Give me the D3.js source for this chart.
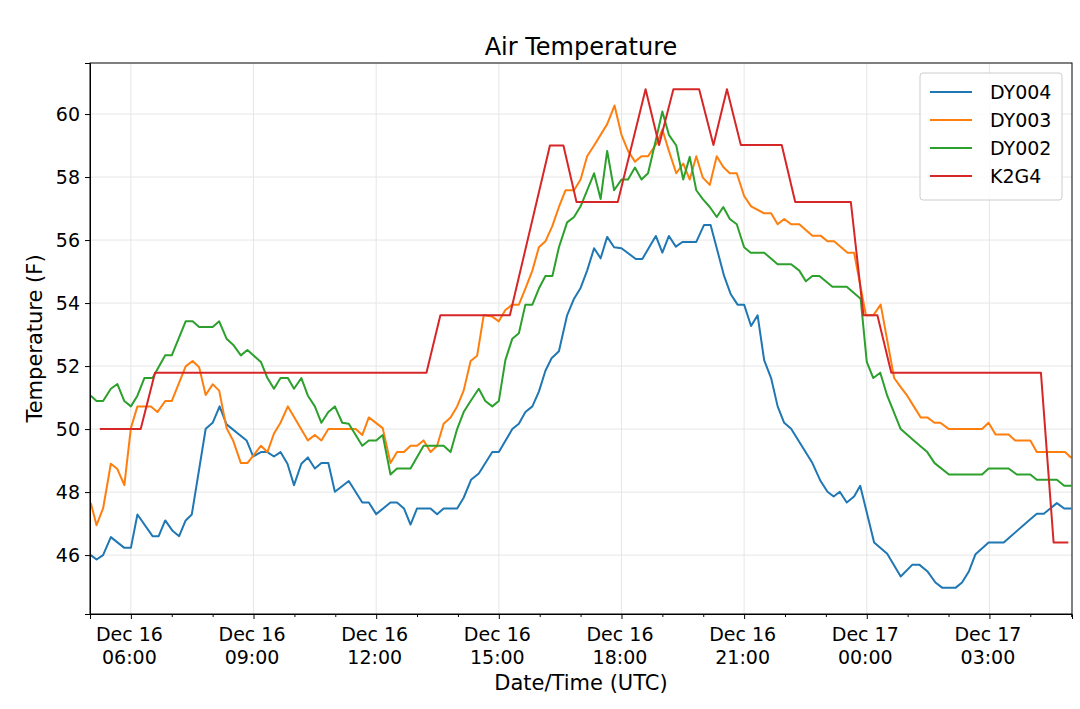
<!DOCTYPE html>
<html>
<head>
<meta charset="utf-8">
<script src="https://cdn.jsdelivr.net/npm/d3@7"></script>
<style>
  body { margin: 0; background: #fff; font-family: "DejaVu Sans", sans-serif; }
  .grid line { stroke: #e6e6e6; stroke-width: 1; }
  .axis text { font-size: 19px; fill: #000; font-family: "DejaVu Sans", sans-serif; }
  .axis path, .axis line { stroke: #000; }
</style>
</head>
<body>
<div id="chart"></div>
<script>

// hours since Dec 16 00:00 UTC, temperature (F)
var dy004 = [[5.02,46.0],[5.16,45.86],[5.32,46.0],[5.51,46.57],[5.84,46.23],[6.0,46.23],[6.16,47.29],[6.53,46.6],[6.68,46.6],[6.84,47.1],[7.02,46.77],[7.18,46.6],[7.34,47.1],[7.49,47.29],[7.83,50.01],[8.0,50.2],[8.17,50.72],[8.34,50.15],[8.83,49.64],[8.99,49.13],[9.18,49.27],[9.34,49.27],[9.5,49.13],[9.66,49.27],[9.83,48.9],[9.99,48.22],[10.17,48.9],[10.33,49.1],[10.5,48.75],[10.66,48.92],[10.83,48.92],[10.99,48.01],[11.33,48.35],[11.66,47.67],[11.82,47.67],[12.0,47.3],[12.35,47.67],[12.51,47.67],[12.68,47.48],[12.84,46.97],[13.0,47.48],[13.33,47.48],[13.49,47.3],[13.65,47.48],[13.98,47.48],[14.14,47.82],[14.32,48.39],[14.51,48.59],[14.84,49.27],[15.0,49.27],[15.33,50.0],[15.49,50.17],[15.65,50.54],[15.82,50.72],[15.98,51.19],[16.14,51.85],[16.29,52.25],[16.47,52.47],[16.67,53.61],[16.84,54.14],[17.0,54.48],[17.16,55.03],[17.33,55.74],[17.49,55.42],[17.65,56.1],[17.82,55.77],[18.0,55.74],[18.35,55.4],[18.51,55.4],[18.84,56.13],[19.0,55.6],[19.16,56.13],[19.33,55.79],[19.49,55.94],[19.83,55.94],[20.02,56.48],[20.18,56.48],[20.51,54.86],[20.67,54.29],[20.84,53.95],[21.0,53.95],[21.17,53.27],[21.33,53.61],[21.49,52.19],[21.66,51.62],[21.82,50.72],[21.98,50.2],[22.15,50.01],[22.67,48.92],[22.87,48.35],[23.04,48.01],[23.19,47.86],[23.34,48.01],[23.51,47.67],[23.69,47.86],[23.84,48.2],[24.18,46.4],[24.5,46.04],[24.83,45.32],[25.11,45.69],[25.29,45.69],[25.48,45.49],[25.68,45.13],[25.85,44.96],[26.17,44.96],[26.33,45.13],[26.5,45.49],[26.66,46.03],[26.98,46.4],[27.35,46.4],[28.0,47.14],[28.16,47.31],[28.33,47.31],[28.65,47.65],[28.83,47.48],[29.0,47.48]];

var dy003 = [[5.02,47.65],[5.16,46.95],[5.32,47.48],[5.51,48.9],[5.67,48.73],[5.84,48.22],[6.0,50.03],[6.16,50.72],[6.49,50.72],[6.65,50.54],[6.84,50.89],[7.0,50.89],[7.34,51.99],[7.51,52.16],[7.67,51.96],[7.83,51.08],[8.0,51.42],[8.16,51.22],[8.34,50.03],[8.5,49.64],[8.69,48.92],[8.85,48.92],[9.18,49.47],[9.34,49.27],[9.5,49.86],[9.66,50.2],[9.84,50.72],[10.33,49.64],[10.5,49.81],[10.66,49.64],[10.83,50.0],[11.5,50.0],[11.66,49.81],[11.82,50.37],[12.16,50.03],[12.35,48.92],[12.51,49.27],[12.68,49.27],[12.84,49.47],[13.0,49.47],[13.16,49.64],[13.33,49.27],[13.49,49.47],[13.65,50.17],[13.82,50.37],[13.98,50.72],[14.14,51.22],[14.31,52.16],[14.47,52.33],[14.63,53.61],[14.84,53.57],[15.0,53.42],[15.16,53.78],[15.33,53.95],[15.49,53.95],[15.65,54.46],[15.82,55.03],[15.98,55.77],[16.14,55.96],[16.31,56.45],[16.47,57.05],[16.63,57.58],[16.84,57.58],[17.0,57.92],[17.16,58.66],[17.33,59.0],[17.65,59.68],[17.83,60.27],[18.0,59.34],[18.16,58.83],[18.33,58.49],[18.49,58.66],[18.65,58.66],[18.88,59.11],[19.0,59.51],[19.16,58.83],[19.34,58.12],[19.51,58.43],[19.67,57.92],[19.83,58.66],[19.99,57.98],[20.16,57.75],[20.33,58.66],[20.49,58.32],[20.65,58.12],[20.82,58.12],[21.0,57.4],[21.17,57.07],[21.49,56.85],[21.66,56.85],[21.82,56.5],[21.98,56.67],[22.15,56.5],[22.35,56.5],[22.67,56.14],[22.87,56.14],[23.04,55.96],[23.2,55.96],[23.53,55.6],[23.69,55.6],[23.98,53.61],[24.16,53.61],[24.34,53.95],[24.67,51.62],[24.83,51.33],[24.99,51.06],[25.15,50.72],[25.32,50.37],[25.48,50.37],[25.66,50.2],[25.8,50.2],[26.01,50.0],[26.82,50.0],[26.98,50.2],[27.15,49.83],[27.47,49.83],[27.63,49.64],[28.0,49.64],[28.16,49.27],[28.85,49.27],[29.0,49.09]];

var dy002 = [[5.02,51.06],[5.16,50.89],[5.32,50.89],[5.51,51.28],[5.67,51.43],[5.84,50.89],[6.0,50.72],[6.16,51.06],[6.33,51.62],[6.53,51.62],[6.84,52.34],[7.0,52.34],[7.34,53.42],[7.51,53.42],[7.67,53.24],[8.0,53.24],[8.16,53.42],[8.34,52.87],[8.5,52.68],[8.69,52.34],[8.85,52.51],[9.18,52.13],[9.34,51.62],[9.5,51.28],[9.66,51.62],[9.84,51.62],[9.99,51.28],[10.17,51.62],[10.33,51.06],[10.5,50.72],[10.66,50.2],[10.83,50.54],[10.99,50.72],[11.17,50.2],[11.33,50.17],[11.66,49.47],[11.82,49.64],[12.0,49.64],[12.16,49.81],[12.35,48.56],[12.51,48.75],[12.84,48.75],[13.16,49.47],[13.65,49.47],[13.82,49.27],[13.98,50.0],[14.14,50.54],[14.31,50.89],[14.51,51.28],[14.67,50.89],[14.84,50.72],[15.0,50.89],[15.16,52.19],[15.33,52.87],[15.49,53.04],[15.65,53.95],[15.82,53.95],[15.98,54.46],[16.14,54.86],[16.31,54.86],[16.47,55.77],[16.67,56.56],[16.84,56.73],[17.0,57.07],[17.16,57.58],[17.33,58.12],[17.49,57.3],[17.65,58.83],[17.82,57.58],[18.0,57.92],[18.16,57.92],[18.33,58.3],[18.49,57.92],[18.65,58.12],[18.84,59.17],[19.0,60.08],[19.16,59.34],[19.34,59.0],[19.51,57.92],[19.67,58.64],[19.83,57.58],[19.99,57.3],[20.16,57.05],[20.33,56.73],[20.49,57.05],[20.65,56.67],[20.82,56.5],[21.0,55.77],[21.16,55.6],[21.49,55.6],[21.82,55.23],[22.15,55.23],[22.35,55.03],[22.51,54.69],[22.67,54.86],[22.84,54.86],[23.16,54.52],[23.51,54.52],[23.85,54.14],[24.0,52.13],[24.16,51.62],[24.33,51.79],[24.5,51.06],[24.83,50.0],[25.15,49.64],[25.48,49.27],[25.66,48.92],[26.01,48.56],[26.82,48.56],[26.98,48.75],[27.47,48.75],[27.67,48.56],[28.0,48.56],[28.16,48.39],[28.65,48.39],[28.83,48.2],[29.0,48.2]];

var k2g4 = [[5.24,50.0],[6.24,50.0],[6.59,51.79],[13.23,51.79],[13.57,53.61],[15.27,53.61],[16.25,59.0],[16.58,59.0],[16.9,57.21],[17.91,57.21],[18.59,60.79],[18.92,59.02],[19.27,60.79],[19.9,60.79],[20.25,59.02],[20.58,60.79],[20.92,59.02],[21.92,59.02],[22.25,57.21],[23.61,57.21],[23.92,53.61],[24.26,53.61],[24.6,51.79],[28.26,51.79],[28.57,46.4],[28.93,46.4]];

var names = ['DY004', 'DY003', 'DY002', 'K2G4'];
var colors = ['#1f77b4', '#ff7f0e', '#2ca02c', '#d62728'];
var yTicks = [46, 48, 50, 52, 54, 56, 58, 60];
var xTickHours = [6, 9, 12, 15, 18, 21, 24, 27];

var W = 1080, H = 709;
var margin = { top: 63, right: 8, bottom: 95, left: 90 };
var innerW = W - margin.left - margin.right;
var innerH = H - margin.top - margin.bottom;

var base = Date.UTC(2019, 11, 16);
function toDate(h) { return new Date(base + h * 3600000); }

var series = [dy004, dy003, dy002, k2g4].map(function(d, i) {
  return { name: names[i], color: colors[i], data: d };
});

var x = d3.scaleUtc()
  .domain([toDate(5.0), toDate(29.02)])
  .range([0, innerW]);
var y = d3.scaleLinear()
  .domain([44.13, 61.62])
  .range([innerH, 0]);

var svg = d3.select('#chart').append('svg')
  .attr('width', W).attr('height', H);

var g = svg.append('g')
  .attr('transform', 'translate(' + margin.left + ',' + margin.top + ')');

// grid
var grid = g.append('g').attr('class', 'grid');
grid.selectAll('.gy').data(yTicks).enter().append('line')
  .attr('x1', 0).attr('x2', innerW)
  .attr('y1', function(d) { return y(d); }).attr('y2', function(d) { return y(d); });
grid.selectAll('.gx').data(xTickHours).enter().append('line')
  .attr('y1', 0).attr('y2', innerH)
  .attr('x1', function(d) { return x(toDate(d)); }).attr('x2', function(d) { return x(toDate(d)); });

// lines
var line = d3.line()
  .x(function(d) { return x(toDate(d[0])); })
  .y(function(d) { return y(d[1]); });

g.selectAll('.series').data(series).enter().append('path')
  .attr('fill', 'none')
  .attr('stroke', function(d) { return d.color; })
  .attr('stroke-width', 2)
  .attr('stroke-linejoin', 'round')
  .attr('d', function(d) { return line(d.data); });

// axes
var fmtDay = d3.utcFormat('%b %d'), fmtTime = d3.utcFormat('%H:%M');
var xAxis = g.append('g').attr('class', 'axis')
  .attr('transform', 'translate(0,' + innerH + ')')
  .call(d3.axisBottom(x).tickValues(xTickHours.map(toDate)).tickSize(5).tickPadding(4).tickFormat(''));
xAxis.selectAll('.tick').append('text')
  .attr('text-anchor', 'middle').attr('fill', '#000')
  .each(function(d) {
    var t = d3.select(this);
    t.append('tspan').attr('x', -2).attr('y', 27).text(fmtDay(d));
    t.append('tspan').attr('x', -2).attr('y', 50).text(fmtTime(d));
  });

// minor hour ticks
var minor = d3.range(5, 30).filter(function(h) { return xTickHours.indexOf(h) < 0; });
g.append('g').attr('class', 'axis')
  .attr('transform', 'translate(0,' + innerH + ')')
  .call(d3.axisBottom(x).tickValues(minor.map(toDate)).tickSize(3).tickFormat(''))
  .select('.domain').remove();

g.append('g').attr('class', 'axis')
  .call(d3.axisLeft(y).tickValues(yTicks).tickSize(5).tickPadding(5).tickFormat(d3.format('d')));

// frame
g.append('rect').attr('width', innerW).attr('height', innerH)
  .attr('fill', 'none').attr('stroke', '#000').attr('stroke-width', 1);

// titles
svg.append('text').attr('x', margin.left + innerW / 2).attr('y', 55)
  .attr('text-anchor', 'middle').attr('font-size', 24).text('Air Temperature');
svg.append('text').attr('x', margin.left + innerW / 2).attr('y', 690)
  .attr('text-anchor', 'middle').attr('font-size', 21).text('Date/Time (UTC)');
svg.append('text')
  .attr('transform', 'translate(42,' + (margin.top + innerH / 2) + ') rotate(-90)')
  .attr('text-anchor', 'middle').attr('font-size', 21).text('Temperature (F)');

// legend
var lg = g.append('g').attr('transform', 'translate(' + (innerW - 152) + ',10)');
lg.append('rect').attr('width', 142).attr('height', 127).attr('rx', 3)
  .attr('fill', '#fff').attr('fill-opacity', 0.8).attr('stroke', '#ccc');
var items = lg.selectAll('.item').data(series).enter().append('g')
  .attr('transform', function(d, i) { return 'translate(10,' + (19 + i * 28) + ')'; });
items.append('line').attr('x1', 0).attr('x2', 42)
  .attr('stroke', function(d) { return d.color; }).attr('stroke-width', 2);
items.append('text').attr('x', 60).attr('dy', '0.35em').attr('font-size', 19)
  .text(function(d) { return d.name; });

</script>
</body>
</html>
